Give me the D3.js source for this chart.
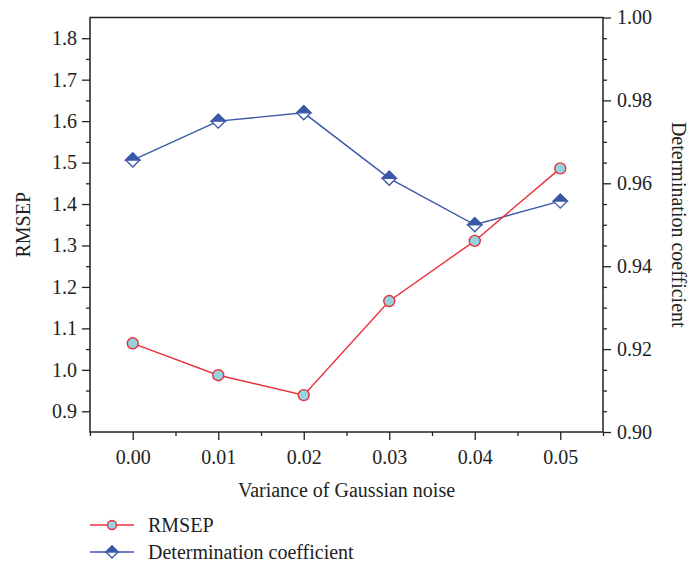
<!DOCTYPE html>
<html>
<head>
<meta charset="utf-8">
<script src="https://cdn.jsdelivr.net/npm/d3@7"></script>
<style>
  body { margin: 0; background: #fff; }
  svg text { font-family: "Liberation Serif", "DejaVu Serif", serif; fill: #222; }
</style>
</head>
<body>
<div id="chart"></div>
<script>
// dades llegides del gràfic
const noise = [0.00, 0.01, 0.02, 0.03, 0.04, 0.05];
const rmsep = [1.064, 0.987, 0.939, 1.166, 1.311, 1.486];
const detCoef = [0.9656, 0.9750, 0.9770, 0.9612, 0.9500, 0.9557];

const xTicks = [0.00, 0.01, 0.02, 0.03, 0.04, 0.05];
const xMinor = [-0.005, 0.005, 0.015, 0.025, 0.035, 0.045, 0.055];
const yLeftTicks = [0.9, 1.0, 1.1, 1.2, 1.3, 1.4, 1.5, 1.6, 1.7, 1.8];
const yLeftMinor = [0.95, 1.05, 1.15, 1.25, 1.35, 1.45, 1.55, 1.65, 1.75];
const yRightTicks = [0.90, 0.92, 0.94, 0.96, 0.98, 1.00];
const yRightMinor = [0.905, 0.91, 0.915, 0.925, 0.93, 0.935, 0.945, 0.95, 0.955,
                     0.965, 0.97, 0.975, 0.985, 0.99, 0.995];

const W = 689, H = 563;
const margin = { top: 17.5, right: 86, bottom: 131, left: 90 };
const width = W - margin.left - margin.right;
const height = H - margin.top - margin.bottom;

const red = '#e8323c', blue = '#3a58a8', cyan = '#94d3df', ink = '#222';
const fs = '20px';

const svg = d3.select('#chart').append('svg')
    .attr('width', W)
    .attr('height', H);

const g = svg.append('g')
    .attr('transform', `translate(${margin.left},${margin.top})`);

const x = d3.scaleLinear().domain([-0.005, 0.055]).range([0, width]);
const yL = d3.scaleLinear().domain([0.85, 1.85]).range([height, 0]);
const yR = d3.scaleLinear().domain([0.90, 1.00]).range([height, 0]);

function styleAxis(sel) {
    sel.select('.domain').remove();
    sel.selectAll('line').attr('stroke', ink).attr('stroke-width', 1.3);
    sel.selectAll('text').style('font-size', fs);
}

// eix x
g.append('g')
    .attr('transform', `translate(0,${height})`)
    .call(d3.axisBottom(x).tickValues(xMinor).tickSize(4).tickFormat(''))
    .call(styleAxis);
g.append('g')
    .attr('transform', `translate(0,${height})`)
    .call(d3.axisBottom(x).tickValues(xTicks).tickSize(8).tickPadding(10).tickFormat(d3.format('.2f')))
    .call(styleAxis);

// eix esquerre
g.append('g')
    .call(d3.axisLeft(yL).tickValues(yLeftMinor).tickSize(4).tickFormat(''))
    .call(styleAxis);
g.append('g')
    .call(d3.axisLeft(yL).tickValues(yLeftTicks).tickSize(8).tickPadding(5).tickFormat(d3.format('.1f')))
    .call(styleAxis);

// eix dret
g.append('g')
    .attr('transform', `translate(${width},0)`)
    .call(d3.axisRight(yR).tickValues(yRightMinor).tickSize(4).tickFormat(''))
    .call(styleAxis);
g.append('g')
    .attr('transform', `translate(${width},0)`)
    .call(d3.axisRight(yR).tickValues(yRightTicks).tickSize(8).tickPadding(6).tickFormat(d3.format('.2f')))
    .call(styleAxis);

// marc
g.append('rect')
    .attr('width', width)
    .attr('height', height)
    .attr('fill', 'none')
    .attr('stroke', ink)
    .attr('stroke-width', 1.5);

// títols dels eixos
svg.append('text')
    .attr('x', margin.left + width / 2)
    .attr('y', 497)
    .attr('text-anchor', 'middle')
    .style('font-size', fs)
    .text('Variance of Gaussian noise');

svg.append('text')
    .attr('transform', `translate(30,${margin.top + height / 2}) rotate(-90)`)
    .attr('text-anchor', 'middle')
    .style('font-size', fs)
    .text('RMSEP');

svg.append('text')
    .attr('transform', `translate(672,${margin.top + height / 2}) rotate(90)`)
    .attr('text-anchor', 'middle')
    .style('font-size', fs)
    .text('Determination coefficient');

// marcador rombe: meitat superior plena, inferior buida
function diamond(sel, s) {
    sel.append('path')
        .attr('d', `M${-s},0 L0,${-s} L${s},0 L0,${s} Z`)
        .attr('fill', '#fff')
        .attr('stroke', blue)
        .attr('stroke-width', 1.4);
    sel.append('path')
        .attr('d', `M${-s},0 L0,${-s} L${s},0 Z`)
        .attr('fill', blue)
        .attr('stroke', blue)
        .attr('stroke-width', 1.4);
}

function circleMark(sel, r) {
    sel.append('circle')
        .attr('r', r)
        .attr('fill', cyan)
        .attr('stroke', red)
        .attr('stroke-width', 1.4);
}

// sèrie de coeficient de determinació
const detLine = d3.line()
    .x((d, i) => x(noise[i]))
    .y(d => yR(d));

g.append('path')
    .datum(detCoef)
    .attr('fill', 'none')
    .attr('stroke', blue)
    .attr('stroke-width', 1.4)
    .attr('d', detLine);

g.selectAll('.det')
    .data(detCoef)
    .enter().append('g')
    .attr('class', 'det')
    .attr('transform', (d, i) => `translate(${x(noise[i])},${yR(d)})`)
    .each(function() { diamond(d3.select(this), 7); });

// sèrie RMSEP
const rmsLine = d3.line()
    .x((d, i) => x(noise[i]))
    .y(d => yL(d));

g.append('path')
    .datum(rmsep)
    .attr('fill', 'none')
    .attr('stroke', red)
    .attr('stroke-width', 1.4)
    .attr('d', rmsLine);

g.selectAll('.rms')
    .data(rmsep)
    .enter().append('g')
    .attr('class', 'rms')
    .attr('transform', (d, i) => `translate(${x(noise[i])},${yL(d)})`)
    .each(function() { circleMark(d3.select(this), 5.5); });

// llegenda
const legend = [
    { label: 'RMSEP', color: red, mark: s => circleMark(s, 4.5) },
    { label: 'Determination coefficient', color: blue, mark: s => diamond(s, 6) }
];

const lg = svg.append('g').attr('transform', 'translate(90,525)');
legend.forEach((d, i) => {
    const row = lg.append('g').attr('transform', `translate(0,${i * 27})`);
    row.append('line')
        .attr('x1', 0).attr('x2', 44)
        .attr('stroke', d.color)
        .attr('stroke-width', 1.4);
    d.mark(row.append('g').attr('transform', 'translate(22,0)'));
    row.append('text')
        .attr('x', 58)
        .attr('y', 7)
        .style('font-size', fs)
        .text(d.label);
});
</script>
</body>
</html>
